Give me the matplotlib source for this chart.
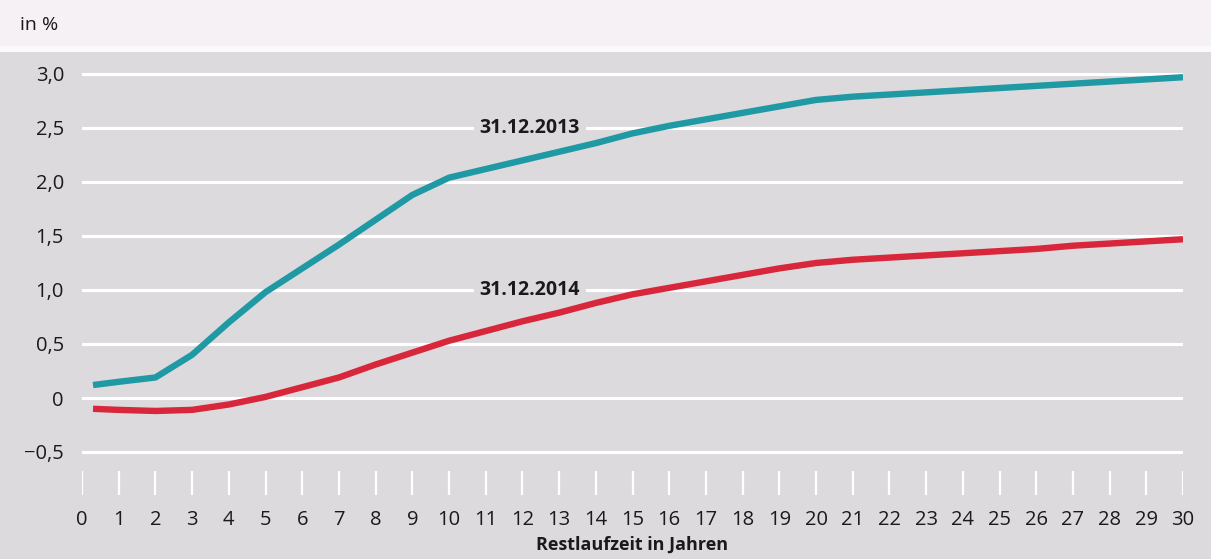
import matplotlib
matplotlib.use("Agg")
import matplotlib.pyplot as plt
from matplotlib.patches import Rectangle

# Restlaufzeit in Jahren
years = [0.3, 1, 2, 3, 4, 5, 6, 7, 8, 9, 10, 11, 12, 13, 14, 15, 16, 17, 18, 19, 20,
         21, 22, 23, 24, 25, 26, 27, 28, 29, 30]
# Zinsstrukturkurve 31.12.2013 (in %)
curve_2013 = [0.12, 0.15, 0.19, 0.40, 0.70, 0.98, 1.20, 1.42, 1.65, 1.88, 2.04,
              2.12, 2.20, 2.28, 2.36, 2.45, 2.52, 2.58, 2.64, 2.70, 2.76,
              2.79, 2.81, 2.83, 2.85, 2.87, 2.89, 2.91, 2.93, 2.95, 2.97]
# Zinsstrukturkurve 31.12.2014 (in %)
curve_2014 = [-0.10, -0.11, -0.12, -0.11, -0.06, 0.01, 0.10, 0.19, 0.31, 0.42, 0.53,
              0.62, 0.71, 0.79, 0.88, 0.96, 1.02, 1.08, 1.14, 1.20, 1.25,
              1.28, 1.30, 1.32, 1.34, 1.36, 1.38, 1.41, 1.43, 1.45, 1.47]

x_ticks = list(range(0, 31))
y_ticks = [-0.5, 0, 0.5, 1.0, 1.5, 2.0, 2.5, 3.0]
y_labels = ["\u22120,5", "0", "0,5", "1,0", "1,5", "2,0", "2,5", "3,0"]

TEAL = "#1f9aa4"
RED = "#d8263b"
BG = "#dddadd"
INK = "#1a1a1a"

plt.rcParams["font.family"] = ["Open Sans", "DejaVu Sans"]

W, H = 1211, 559
fig = plt.figure(figsize=(W / 100, H / 100), dpi=100, facecolor=BG)
fig.patches.append(Rectangle((0, 1 - 46 / H), 1, 46 / H, transform=fig.transFigure,
                             facecolor="#f6f1f4", edgecolor="none", zorder=0))
fig.patches.append(Rectangle((0, 1 - 52 / H), 1, 6 / H, transform=fig.transFigure,
                             facecolor="#fbf9fa", edgecolor="none", zorder=0))

# axes in pixel terms: x 82..1183 -> 0..30, y 0 at 398 px, 108 px per unit
x0, x1 = 82, 1183
ymin, ymax = -0.95, 3.15
top_px = 398 - ymax * 108
bot_px = 398 - ymin * 108
ax = fig.add_axes([x0 / W, 1 - bot_px / H, (x1 - x0) / W, (bot_px - top_px) / H])
ax.set_facecolor("none")
ax.set_xlim(0, 30)
ax.set_ylim(ymin, ymax)
for s in ax.spines.values():
    s.set_visible(False)

for yv in y_ticks:
    ax.axhline(yv, color="white", lw=2.2, zorder=1)

ax.plot(years, curve_2013, color=TEAL, lw=4.6, solid_capstyle="butt", zorder=3)
ax.plot(years, curve_2014, color=RED, lw=4.6, solid_capstyle="butt", zorder=3)

# white tick marks below the plot
ax.vlines(x_ticks, -0.68, -0.9, color="white", lw=1.6, zorder=1)

ax.set_yticks(y_ticks)
ax.set_yticklabels(y_labels)
ax.set_xticks(x_ticks)
ax.set_xticklabels([str(v) for v in x_ticks])
ax.tick_params(axis="both", length=0, labelsize=14.5, colors=INK)
ax.tick_params(axis="y", pad=13)
ax.tick_params(axis="x", pad=7)

ax.set_xlabel("Restlaufzeit in Jahren", fontsize=13, fontweight="bold",
              color=INK, labelpad=4)

for txt, yv in [("31.12.2013", 2.5), ("31.12.2014", 1.0)]:
    ax.text(12.2, yv, txt, ha="center", va="center", fontsize=14, fontweight="bold",
            color=INK, zorder=2,
            bbox=dict(facecolor=BG, edgecolor="none", pad=4))

fig.text(20 / W, 1 - 25 / H, "in %", ha="left", va="center", fontsize=14, color=INK)

fig.savefig("out.png", dpi=100, facecolor=fig.get_facecolor())
